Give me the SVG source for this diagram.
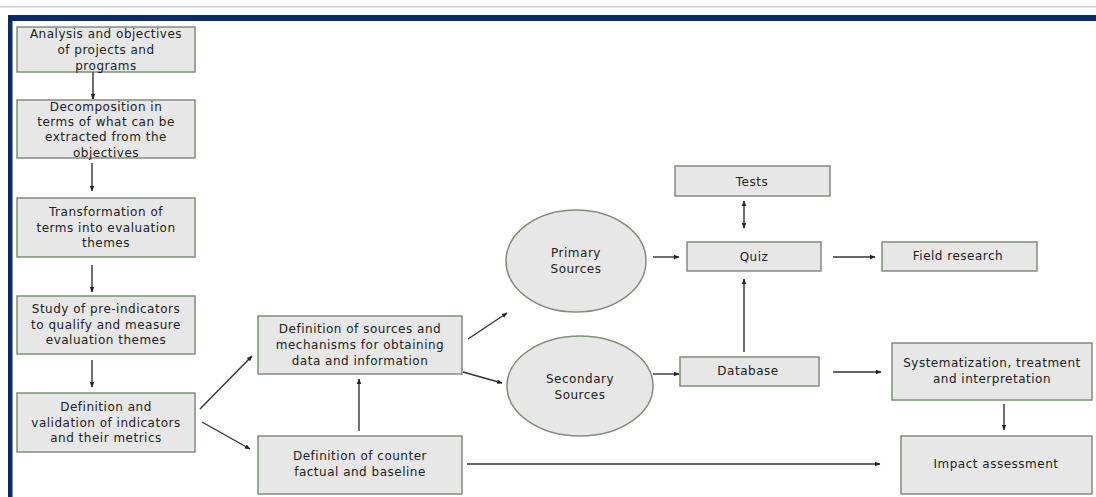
<svg xmlns="http://www.w3.org/2000/svg" width="1096" height="497" viewBox="0 0 1096 497">
<style>
.box{fill:#e7e7e7;stroke:#7f8f7b;stroke-width:1.5}
.t{font-family:"DejaVu Sans","Open Sans",sans-serif;font-size:12px;letter-spacing:0.5px;fill:#222;text-anchor:middle}
.c{stroke:#333;stroke-width:1.4;fill:none;marker-end:url(#ah)}
</style>
<defs>
<marker id="ah" viewBox="0 0 10 10" refX="9" refY="5" markerWidth="4" markerHeight="4" orient="auto-start-reverse" markerUnits="strokeWidth">
<path d="M0,1 L10,5 L0,9 z" fill="#222"/>
</marker>
</defs>
<rect width="1096" height="497" fill="#fff"/>
<rect x="0" y="6" width="1096" height="1.5" fill="#cfcfcf"/>
<rect x="8" y="15" width="1088" height="6" fill="#0c2a63"/>
<rect x="8" y="15" width="4.5" height="482" fill="#0c2a63"/>

<g id="n1"><rect class="box" x="17" y="27" width="178" height="45"/>
<text class="t" x="106" y="38">Analysis and objectives</text><text class="t" x="106" y="54">of projects and</text><text class="t" x="106" y="70">programs</text></g>
<g id="n2"><rect class="box" x="17" y="100" width="178" height="58"/>
<text class="t" x="106" y="111">Decomposition in</text><text class="t" x="106" y="126">terms of what can be</text><text class="t" x="106" y="141">extracted from the</text><text class="t" x="106" y="157">objectives</text></g>
<g id="n3"><rect class="box" x="17" y="198" width="178" height="59"/>
<text class="t" x="106" y="216">Transformation of</text><text class="t" x="106" y="232">terms into evaluation</text><text class="t" x="106" y="247">themes</text></g>
<g id="n4"><rect class="box" x="17" y="296" width="178" height="58"/>
<text class="t" x="106" y="313">Study of pre-indicators</text><text class="t" x="106" y="329">to qualify and measure</text><text class="t" x="106" y="344">evaluation themes</text></g>
<g id="n5"><rect class="box" x="17" y="393" width="178" height="59"/>
<text class="t" x="106" y="411">Definition and</text><text class="t" x="106" y="427">validation of indicators</text><text class="t" x="106" y="442">and their metrics</text></g>
<g id="n6"><rect class="box" x="258" y="316" width="204" height="58"/>
<text class="t" x="360" y="333">Definition of sources and</text><text class="t" x="360" y="349">mechanisms for obtaining</text><text class="t" x="360" y="365">data and information</text></g>
<g id="n7"><rect class="box" x="258" y="436" width="204" height="58"/>
<text class="t" x="360" y="460">Definition of counter</text><text class="t" x="360" y="476">factual and baseline</text></g>
<g id="primary"><ellipse class="box" cx="576" cy="261" rx="70" ry="51"/>
<text class="t" x="576" y="257">Primary</text><text class="t" x="576" y="273">Sources</text></g>
<g id="secondary"><ellipse class="box" cx="580" cy="386" rx="73" ry="50"/>
<text class="t" x="580" y="383">Secondary</text><text class="t" x="580" y="399">Sources</text></g>
<g id="tests"><rect class="box" x="675" y="166" width="155" height="30"/><text class="t" x="752" y="186">Tests</text></g>
<g id="quiz"><rect class="box" x="687" y="242" width="134" height="29"/><text class="t" x="754" y="261">Quiz</text></g>
<g id="field"><rect class="box" x="882" y="242" width="155" height="29"/><text class="t" x="958" y="260">Field research</text></g>
<g id="database"><rect class="box" x="680" y="357" width="139" height="29"/><text class="t" x="748" y="375">Database</text></g>
<g id="system"><rect class="box" x="892" y="343" width="200" height="57"/>
<text class="t" x="992" y="367">Systematization, treatment</text><text class="t" x="992" y="383">and interpretation</text></g>
<g id="impact"><rect class="box" x="901" y="436" width="191" height="58"/><text class="t" x="996" y="468">Impact assessment</text></g>

<g id="connectors">
<line class="c" x1="93" y1="72" x2="93" y2="99"/>
<line class="c" x1="92" y1="163" x2="92" y2="191"/>
<line class="c" x1="92" y1="265" x2="92" y2="292"/>
<line class="c" x1="92" y1="360" x2="92" y2="387"/>
<line class="c" x1="200" y1="409" x2="252" y2="356"/>
<line class="c" x1="202" y1="422" x2="250" y2="449"/>
<line class="c" x1="359" y1="431" x2="359" y2="379"/>
<line class="c" x1="468" y1="339" x2="507" y2="313"/>
<line class="c" x1="463" y1="372" x2="502" y2="383"/>
<line class="c" x1="653" y1="257" x2="679" y2="257"/>
<line class="c" x1="653" y1="374" x2="679" y2="374"/>
<line class="c" x1="744" y1="201" x2="744" y2="228" style="marker-start:url(#ah)"/>
<line class="c" x1="833" y1="257" x2="875" y2="257"/>
<line class="c" x1="744" y1="352" x2="744" y2="279"/>
<line class="c" x1="833" y1="372" x2="881" y2="372"/>
<line class="c" x1="1004" y1="404" x2="1004" y2="430"/>
<line class="c" x1="467" y1="464" x2="880" y2="464"/>
</g>
</svg>
